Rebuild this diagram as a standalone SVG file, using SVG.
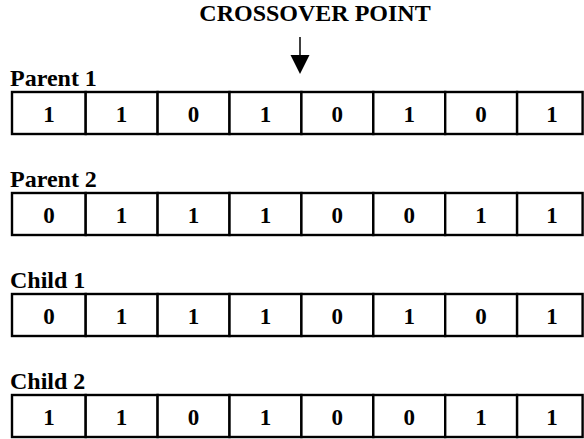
<svg xmlns="http://www.w3.org/2000/svg" width="584" height="439" viewBox="0 0 584 439" font-family="'Liberation Serif', 'Times New Roman', serif">
  <style>
    text { font-family: "Liberation Serif", serif; font-weight: 700; fill: #000; }
    .title { font-size: 24px; }
    .label { font-size: 24px; }
    .bit { font-size: 23px; text-anchor: middle; }
    .cell { fill: #fff; stroke: #000; stroke-width: 2.4; }
    .edge { stroke: #000; stroke-width: 1.5; fill: none; }
  </style>
  <rect width="584" height="439" fill="#fff"/>

  <g id="crossover">
    <text class="title" x="315" y="21" text-anchor="middle">CROSSOVER POINT</text>
  </g>
  <g id="connectors">
    <line class="edge" x1="300" y1="37" x2="300" y2="56"/>
    <path d="M290.5,55 L309.5,55 L300,74 Z" fill="#000"/>
  </g>

  <g id="parent1">
    <text class="label" x="10" y="86">Parent 1</text>
    <g transform="translate(0,92)">
      <rect class="cell" x="12" y="0" width="73.7" height="42"/>
      <rect class="cell" x="85.7" y="0" width="71.9" height="42"/>
      <rect class="cell" x="157.6" y="0" width="71.9" height="42"/>
      <rect class="cell" x="229.5" y="0" width="71.9" height="42"/>
      <rect class="cell" x="301.4" y="0" width="71.9" height="42"/>
      <rect class="cell" x="373.3" y="0" width="71.9" height="42"/>
      <rect class="cell" x="445.2" y="0" width="71.9" height="42"/>
      <rect class="cell" x="517.1" y="0" width="65.5" height="42"/>
      <text class="bit" x="49" y="30">1</text>
      <text class="bit" x="121.6" y="30">1</text>
      <text class="bit" x="193.5" y="30">0</text>
      <text class="bit" x="265.4" y="30">1</text>
      <text class="bit" x="337.3" y="30">0</text>
      <text class="bit" x="409.2" y="30">1</text>
      <text class="bit" x="481.1" y="30">0</text>
      <text class="bit" x="552" y="30">1</text>
    </g>
  </g>

  <g id="parent2">
    <text class="label" x="10" y="187">Parent 2</text>
    <g transform="translate(0,193)">
      <rect class="cell" x="12" y="0" width="73.7" height="42"/>
      <rect class="cell" x="85.7" y="0" width="71.9" height="42"/>
      <rect class="cell" x="157.6" y="0" width="71.9" height="42"/>
      <rect class="cell" x="229.5" y="0" width="71.9" height="42"/>
      <rect class="cell" x="301.4" y="0" width="71.9" height="42"/>
      <rect class="cell" x="373.3" y="0" width="71.9" height="42"/>
      <rect class="cell" x="445.2" y="0" width="71.9" height="42"/>
      <rect class="cell" x="517.1" y="0" width="65.5" height="42"/>
      <text class="bit" x="49" y="30">0</text>
      <text class="bit" x="121.6" y="30">1</text>
      <text class="bit" x="193.5" y="30">1</text>
      <text class="bit" x="265.4" y="30">1</text>
      <text class="bit" x="337.3" y="30">0</text>
      <text class="bit" x="409.2" y="30">0</text>
      <text class="bit" x="481.1" y="30">1</text>
      <text class="bit" x="552" y="30">1</text>
    </g>
  </g>

  <g id="child1">
    <text class="label" x="10" y="288">Child 1</text>
    <g transform="translate(0,294)">
      <rect class="cell" x="12" y="0" width="73.7" height="42"/>
      <rect class="cell" x="85.7" y="0" width="71.9" height="42"/>
      <rect class="cell" x="157.6" y="0" width="71.9" height="42"/>
      <rect class="cell" x="229.5" y="0" width="71.9" height="42"/>
      <rect class="cell" x="301.4" y="0" width="71.9" height="42"/>
      <rect class="cell" x="373.3" y="0" width="71.9" height="42"/>
      <rect class="cell" x="445.2" y="0" width="71.9" height="42"/>
      <rect class="cell" x="517.1" y="0" width="65.5" height="42"/>
      <text class="bit" x="49" y="30">0</text>
      <text class="bit" x="121.6" y="30">1</text>
      <text class="bit" x="193.5" y="30">1</text>
      <text class="bit" x="265.4" y="30">1</text>
      <text class="bit" x="337.3" y="30">0</text>
      <text class="bit" x="409.2" y="30">1</text>
      <text class="bit" x="481.1" y="30">0</text>
      <text class="bit" x="552" y="30">1</text>
    </g>
  </g>

  <g id="child2">
    <text class="label" x="10" y="389">Child 2</text>
    <g transform="translate(0,395)">
      <rect class="cell" x="12" y="0" width="73.7" height="42"/>
      <rect class="cell" x="85.7" y="0" width="71.9" height="42"/>
      <rect class="cell" x="157.6" y="0" width="71.9" height="42"/>
      <rect class="cell" x="229.5" y="0" width="71.9" height="42"/>
      <rect class="cell" x="301.4" y="0" width="71.9" height="42"/>
      <rect class="cell" x="373.3" y="0" width="71.9" height="42"/>
      <rect class="cell" x="445.2" y="0" width="71.9" height="42"/>
      <rect class="cell" x="517.1" y="0" width="65.5" height="42"/>
      <text class="bit" x="49" y="30">1</text>
      <text class="bit" x="121.6" y="30">1</text>
      <text class="bit" x="193.5" y="30">0</text>
      <text class="bit" x="265.4" y="30">1</text>
      <text class="bit" x="337.3" y="30">0</text>
      <text class="bit" x="409.2" y="30">0</text>
      <text class="bit" x="481.1" y="30">1</text>
      <text class="bit" x="552" y="30">1</text>
    </g>
  </g>
</svg>
